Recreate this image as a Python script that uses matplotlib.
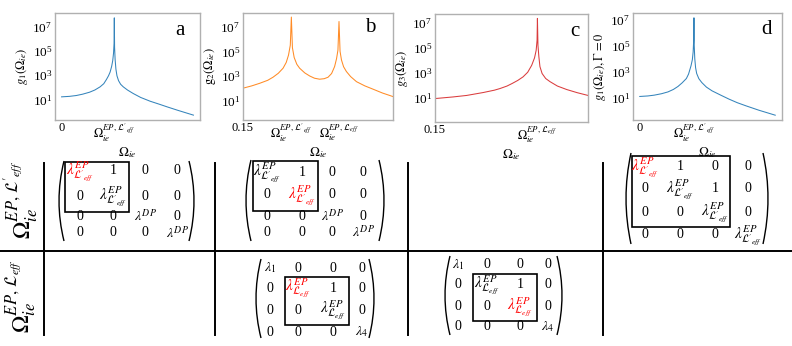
import matplotlib
matplotlib.use('Agg')
import matplotlib.pyplot as plt
from matplotlib.patches import Rectangle, PathPatch
from matplotlib.path import Path
from matplotlib.ticker import NullLocator
import numpy as np

plt.rcParams['font.family'] = ['Liberation Serif', 'DejaVu Serif']
plt.rcParams['mathtext.fontset'] = 'stix'

# ---------------- data (log10 of g) ----------------
# panel a : g1, x in units where the EP' sits at 1.0
xa = [0, 0.15, 0.28, 0.4, 0.53, 0.63, 0.73, 0.8, 0.85, 0.89, 0.92, 0.95, 0.97, 0.985, 0.995, 1.0,
      1.005, 1.015, 1.03, 1.05, 1.08, 1.12, 1.17, 1.25, 1.36, 1.5, 1.68, 1.85, 2.0, 2.2, 2.35, 2.5]
log_ga = [1.22, 1.26, 1.33, 1.44, 1.6, 1.78, 2.04, 2.3, 2.64, 2.95, 3.25, 3.73, 4.2, 4.8, 5.6, 7.7,
          5.3, 4.3, 3.5, 2.95, 2.55, 2.25, 2.04, 1.78, 1.49, 1.17, 0.86, 0.62, 0.4, 0.12, -0.08, -0.28]
# panel b : g2
xb = [0.15, 0.2, 0.245, 0.29, 0.32, 0.35, 0.377, 0.395, 0.408, 0.418, 0.424, 0.43, 0.44, 0.455, 0.471,
      0.5, 0.528, 0.555, 0.584, 0.61, 0.632, 0.652, 0.669, 0.68, 0.688, 0.694, 0.7, 0.708, 0.72, 0.736,
      0.76, 0.793, 0.84, 0.887, 0.94, 1.0]
log_gb = [2.01, 2.2, 2.41, 2.65, 2.9, 3.22, 3.63, 4.1, 4.7, 5.5, 7.78, 5.3, 4.5, 3.95, 3.63,
          3.25, 3.0, 2.82, 2.74, 2.78, 2.9, 3.2, 3.76, 4.4, 5.1, 7.42, 5.0, 4.3, 3.75, 3.36,
          2.95, 2.54, 2.2, 1.93, 1.62, 1.33]
# panel c : g3
xc = [0.15, 0.25, 0.326, 0.417, 0.48, 0.511, 0.55, 0.578, 0.61, 0.639, 0.665, 0.687, 0.703, 0.712, 0.717,
      0.719, 0.722, 0.727, 0.733, 0.745, 0.765, 0.789, 0.83, 0.882, 0.94, 1.0]
log_gc = [0.95, 1.08, 1.2, 1.43, 1.62, 1.75, 1.95, 2.15, 2.4, 2.68, 3.05, 3.6, 4.2, 4.8, 5.6,
          7.35, 5.2, 4.3, 3.5, 2.95, 2.55, 2.3, 1.95, 1.67, 1.42, 1.2]
# panel d : g1 with Gamma = 0
xd = [0, 0.15, 0.265, 0.4, 0.52, 0.62, 0.705, 0.78, 0.86, 0.9, 0.945, 0.97, 0.985, 0.995, 1.0,
      1.005, 1.015, 1.03, 1.05, 1.09, 1.145, 1.23, 1.335, 1.5, 1.65, 1.8, 1.96, 2.2, 2.5]
log_gd = [1.08, 1.12, 1.18, 1.29, 1.43, 1.62, 1.85, 2.12, 2.46, 2.8, 3.43, 3.9, 4.5, 5.4, 7.13,
          5.0, 4.0, 3.3, 2.85, 2.45, 2.15, 1.8, 1.51, 1.17, 0.87, 0.6, 0.36, 0.02, -0.36]

EPp = r"$\Omega_{ie}^{EP,\,\mathcal{L}'_{eff}}$"
EPn = r"$\Omega_{ie}^{EP,\,\mathcal{L}_{eff}}$"
xt_a = [0, 1.0];             xl_a = ["0", EPp]
xt_b = [0.15, 0.424, 0.694]; xl_b = ["0.15", EPp, EPn]
xt_c = [0.15, 0.719];        xl_c = ["0.15", EPn]
xt_d = [0, 1.0];             xl_d = ["0", EPp]
yticks = [1e1, 1e3, 1e5, 1e7]

ylab = [r"$g_1(\Omega_{ie})$", r"$\mathrm{g}_2(\Omega_{ie})$", r"$g_3(\Omega_{ie})$",
        r"$g_1(\Omega_{ie}),\Gamma=0$"]
letters = ["a", "b", "c", "d"]

# matrices
LP = r"$\lambda^{EP}_{\mathcal{L}'_{eff}}$"
LN = r"$\lambda^{EP}_{\mathcal{L}_{eff}}$"
DP = r"$\lambda^{DP}$"
L1 = r"$\lambda_1$"
L4 = r"$\lambda_4$"
mat_ua = [[LP, "1", "0", "0"], ["0", LP, "0", "0"], ["0", "0", DP, "0"], ["0", "0", "0", DP]]
mat_ub = [[LP, "1", "0", "0"], ["0", LP, "0", "0"], ["0", "0", DP, "0"], ["0", "0", "0", DP]]
mat_ud = [[LP, "1", "0", "0"], ["0", LP, "1", "0"], ["0", "0", LP, "0"], ["0", "0", "0", LP]]
mat_lb = [[L1, "0", "0", "0"], ["0", LN, "1", "0"], ["0", "0", LN, "0"], ["0", "0", "0", L4]]
mat_lc = [[L1, "0", "0", "0"], ["0", LN, "1", "0"], ["0", "0", LN, "0"], ["0", "0", "0", L4]]
red_ua = [(0, 0)]
red_ub = [(1, 1)]
red_ud = [(0, 0)]
red_lb = [(1, 1)]
red_lc = [(2, 2)]

row_up = r"$\Omega_{ie}^{EP,\,\mathcal{L}'_{eff}}$"
row_lo = r"$\Omega_{ie}^{EP,\,\mathcal{L}_{eff}}$"

# ---------------- figure ----------------
W, H = 792, 346
fig = plt.figure(figsize=(W / 100, H / 100), dpi=100)

def pax(l, t, r, b):
    return fig.add_axes([l / W, 1 - b / H, (r - l) / W, (b - t) / H])

boxes = [(55, 13, 200, 120), (243, 13, 393, 120), (435, 14, 588, 122), (633, 13, 782, 120)]
series = [(xa, log_ga), (xb, log_gb), (xc, log_gc), (xd, log_gd)]
colors = ['#1f77b4', '#ff7f0e', '#d62728', '#1f77b4']
xticks = [(xt_a, xl_a), (xt_b, xl_b), (xt_c, xl_c), (xt_d, xl_d)]
ylims = [(10 ** -0.68, 10 ** 8.1), (10 ** -0.57, 10 ** 8.11), (10 ** -0.92, 10 ** 7.7), (10 ** -0.73, 10 ** 7.5)]
xlims = [(-0.125, 2.625), (0.15, 1.0), (0.15, 1.0), (-0.125, 2.625)]
letter_pos = [(0.862, 0.84), (0.847, 0.86), (0.915, 0.836), (0.897, 0.848)]

for k in range(4):
    ax = pax(*boxes[k])
    x, lg = series[k]
    ax.plot(x, 10 ** np.asarray(lg), color=colors[k], lw=0.75, alpha=0.9)
    ax.set_yscale('log')
    ax.set_yticks(yticks)
    ax.yaxis.set_minor_locator(NullLocator())
    ax.set_ylim(*ylims[k])
    ax.set_xlim(*xlims[k])
    ax.set_xticks(xticks[k][0])
    ax.set_xticklabels(xticks[k][1])
    ax.tick_params(axis='y', length=0, labelsize=9.5, pad=2)
    ax.tick_params(axis='x', length=0, labelsize=9, pad=1.5)
    for s in ax.spines.values():
        s.set_color('#b0b0b0')
        s.set_linewidth(1.0)
    ax.set_ylabel(ylab[k], fontsize=9, labelpad=2)
    ax.set_xlabel(r"$\Omega_{ie}$", fontsize=9.5)
    ax.xaxis.set_label_coords(0.5, -0.235)
    ax.text(*letter_pos[k], letters[k], transform=ax.transAxes, fontsize=15,
            ha='center', va='center')

# overlay in pixel coordinates for the table part
ov = fig.add_axes([0, 0, 1, 1])
ov.set_xlim(0, W)
ov.set_ylim(H, 0)
ov.axis('off')

# table lines
ov.plot([0, W], [251, 251], color='black', lw=1.4)
for xv in [44, 215, 408, 603]:
    ov.plot([xv, xv], [163, 335], color='black', lw=1.4)

ov.text(21, 200, row_up, rotation=90, ha='center', va='center', fontsize=17)
ov.text(21, 296, row_lo, rotation=90, ha='center', va='center', fontsize=17)

def paren(xe, y0, y1, side, bulge=5):
    yc = (y0 + y1) / 2
    xend = xe + bulge if side == 'l' else xe - bulge
    xctl = xe - bulge if side == 'l' else xe + bulge
    p = Path([(xend, y0), (xctl, yc), (xend, y1)], [Path.MOVETO, Path.CURVE3, Path.CURVE3])
    ov.add_patch(PathPatch(p, fill=False, ec='black', lw=1.0))

def draw_matrix(cells, reds, xs, ys, box, par, fs=10):
    for i, row in enumerate(cells):
        for j, s in enumerate(row):
            c = 'red' if (i, j) in reds else 'black'
            f = fs + 1 if s.startswith(r"$\lambda^{EP}") else fs
            ov.text(xs[j], ys[i], s, ha='center', va='center', fontsize=f, color=c)
    x0, y0, x1, y1 = box
    ov.add_patch(Rectangle((x0, y0), x1 - x0, y1 - y0, fill=False, ec='black', lw=1.2))
    xl, xr, py0, py1 = par
    paren(xl, py0, py1, 'l')
    paren(xr, py0, py1, 'r')

draw_matrix(mat_ua, red_ua, [80, 113, 145, 177], [171, 196, 216, 233], (65, 162, 129, 212), (59, 194, 161, 241))
draw_matrix(mat_ub, red_ub, [267, 302, 332, 363], [172, 195, 216, 232], (253, 161, 318, 211), (246, 384, 160, 241))
draw_matrix(mat_ud, red_ud, [645, 680, 715, 748], [167, 189, 212, 235], (632, 156, 730, 227), (626, 768, 153, 244))
draw_matrix(mat_lb, red_lb, [270, 298, 333, 362], [268, 288, 310, 332], (285, 277, 349, 325), (256, 374, 259, 338))
draw_matrix(mat_lc, red_lc, [458, 487, 520, 548], [265, 285, 307, 327], (473, 274, 537, 321), (445, 562, 256, 335))

fig.savefig('out.png', dpi=100)
